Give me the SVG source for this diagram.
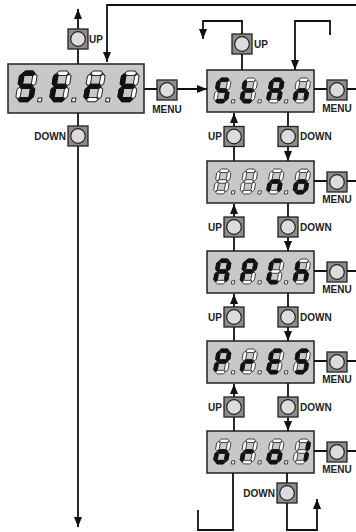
<svg xmlns="http://www.w3.org/2000/svg" xmlns:xlink="http://www.w3.org/1999/xlink" width="356" height="532" viewBox="0 0 356 532">
<style>
.ln{fill:none;stroke:#111;stroke-width:1.8}
.disp{fill:#c8c8c8;stroke:#222;stroke-width:1.5}
.off{fill:#fff;stroke:#222;stroke-width:0.9;stroke-linejoin:round}
.on{fill:#111;stroke:#111;stroke-width:0.9;stroke-linejoin:round}
.lbl{font-family:"Liberation Sans",Arial,sans-serif;font-weight:bold;font-size:10px;fill:#222}
</style>
<defs>
<marker id="ah" viewBox="0 0 10 8" refX="10" refY="4" markerWidth="10" markerHeight="8" markerUnits="userSpaceOnUse" orient="auto"><path d="M0,0 L10,4 L0,8 Z" fill="#111"/></marker>
<path id="sa" d="M2.6,2 L4.6,0 H11.4 L13.4,2 L11.4,4 H4.6 Z"/>
<path id="sg" d="M2.6,14 L4.6,12 H11.4 L13.4,14 L11.4,16 H4.6 Z"/>
<path id="sd" d="M2.6,26 L4.6,24 H11.4 L13.4,26 L11.4,28 H4.6 Z"/>
<path id="sf" d="M2,2.6 L4,4.6 V11.4 L2,13.4 L0,11.4 V4.6 Z"/>
<path id="se" d="M2,14.6 L4,16.6 V23.4 L2,25.4 L0,23.4 V16.6 Z"/>
<path id="sb" d="M14,2.6 L16,4.6 V11.4 L14,13.4 L12,11.4 V4.6 Z"/>
<path id="sc" d="M14,14.6 L16,16.6 V23.4 L14,25.4 L12,23.4 V16.6 Z"/>
<rect id="sp" x="20.5" y="24.5" width="3.5" height="3.5"/>
<g id="d8"><use href="#sa"/><use href="#sb"/><use href="#sc"/><use href="#sd"/><use href="#se"/><use href="#sf"/><use href="#sg"/></g>
<g id="btn"><rect x="0" y="0" width="20" height="20" fill="#8c8c8c" stroke="#222" stroke-width="1.3"/><circle cx="10" cy="10" r="7.3" fill="#dcdcdc" stroke="#222" stroke-width="1.2"/></g>
</defs>

<g id="connectors">
<path class="ln" d="M78,64 V9" marker-end="url(#ah)"/>
<path class="ln" d="M78,113 V527" marker-end="url(#ah)"/>
<path class="ln" d="M358,5 H107 V62" marker-end="url(#ah)"/>
<path class="ln" d="M144,89 H207" marker-end="url(#ah)"/>
<path class="ln" d="M242,70 V21 H203 V39" marker-end="url(#ah)"/>
<path class="ln" d="M330,35 V21 H295 V70" marker-end="url(#ah)"/>
<path class="ln" d="M314,89 H358"/>
<path class="ln" d="M314,181 H358"/>
<path class="ln" d="M314,271 H358"/>
<path class="ln" d="M314,361 H358"/>
<path class="ln" d="M314,451 H358"/>
<path class="ln" d="M234,161 V113" marker-end="url(#ah)"/>
<path class="ln" d="M288,112 V161" marker-end="url(#ah)"/>
<path class="ln" d="M234,251 V204" marker-end="url(#ah)"/>
<path class="ln" d="M288,203 V251" marker-end="url(#ah)"/>
<path class="ln" d="M234,341 V294" marker-end="url(#ah)"/>
<path class="ln" d="M288,293 V341" marker-end="url(#ah)"/>
<path class="ln" d="M234,431 V384" marker-end="url(#ah)"/>
<path class="ln" d="M288,383 V431" marker-end="url(#ah)"/>
<path class="ln" d="M233,473 V530 H198 V510"/>
<path class="ln" d="M287,473 V530 H317 V499" marker-end="url(#ah)"/>
</g>

<g id="strt">
<rect class="disp" x="8" y="64" width="136" height="49"/>
<g transform="translate(20.4,71) scale(1.1) skewX(-10)"><use href="#d8" class="off"/><use href="#sp" class="off"/><g class="on"><use href="#sa"/><use href="#sf"/><use href="#sg"/><use href="#sc"/><use href="#sd"/></g></g>
<g transform="translate(54.4,71) scale(1.1) skewX(-10)"><use href="#d8" class="off"/><use href="#sp" class="off"/><g class="on"><use href="#sf"/><use href="#sg"/><use href="#se"/><use href="#sd"/></g></g>
<g transform="translate(88.4,71) scale(1.1) skewX(-10)"><use href="#d8" class="off"/><use href="#sp" class="off"/><g class="on"><use href="#sg"/><use href="#se"/></g></g>
<g transform="translate(122.4,71) scale(1.1) skewX(-10)"><use href="#d8" class="off"/><g class="on"><use href="#sf"/><use href="#sg"/><use href="#se"/><use href="#sd"/></g></g>
</g>

<g id="stan">
<rect class="disp" x="207" y="70" width="107" height="42"/>
<g transform="translate(217.4,78) scale(0.89) skewX(-10)"><use href="#d8" class="off"/><use href="#sp" class="off"/><g class="on"><use href="#sa"/><use href="#sf"/><use href="#sg"/><use href="#sc"/><use href="#sd"/></g></g>
<g transform="translate(243.9,78) scale(0.89) skewX(-10)"><use href="#d8" class="off"/><use href="#sp" class="off"/><g class="on"><use href="#sf"/><use href="#sg"/><use href="#se"/><use href="#sd"/></g></g>
<g transform="translate(270.4,78) scale(0.89) skewX(-10)"><use href="#d8" class="off"/><use href="#sp" class="off"/><g class="on"><use href="#sa"/><use href="#sb"/><use href="#sc"/><use href="#se"/><use href="#sf"/><use href="#sg"/></g></g>
<g transform="translate(296.9,78) scale(0.89) skewX(-10)"><use href="#d8" class="off"/><g class="on"><use href="#sc"/><use href="#se"/><use href="#sg"/></g></g>
</g>

<g id="no">
<rect class="disp" x="207" y="161" width="107" height="42"/>
<g transform="translate(217.4,169) scale(0.89) skewX(-10)"><use href="#d8" class="off"/><use href="#sp" class="off"/></g>
<g transform="translate(243.9,169) scale(0.89) skewX(-10)"><use href="#d8" class="off"/><use href="#sp" class="off"/></g>
<g transform="translate(270.4,169) scale(0.89) skewX(-10)"><use href="#d8" class="off"/><use href="#sp" class="off"/><g class="on"><use href="#sc"/><use href="#se"/><use href="#sg"/></g></g>
<g transform="translate(296.9,169) scale(0.89) skewX(-10)"><use href="#d8" class="off"/><g class="on"><use href="#sc"/><use href="#sd"/><use href="#se"/><use href="#sg"/></g></g>
</g>

<g id="apch">
<rect class="disp" x="207" y="251" width="107" height="42"/>
<g transform="translate(217.4,259) scale(0.89) skewX(-10)"><use href="#d8" class="off"/><use href="#sp" class="off"/><g class="on"><use href="#sa"/><use href="#sb"/><use href="#sc"/><use href="#se"/><use href="#sf"/><use href="#sg"/></g></g>
<g transform="translate(243.9,259) scale(0.89) skewX(-10)"><use href="#d8" class="off"/><use href="#sp" class="off"/><g class="on"><use href="#sa"/><use href="#sb"/><use href="#se"/><use href="#sf"/><use href="#sg"/></g></g>
<g transform="translate(270.4,259) scale(0.89) skewX(-10)"><use href="#d8" class="off"/><use href="#sp" class="off"/><g class="on"><use href="#sa"/><use href="#sd"/><use href="#se"/><use href="#sf"/></g></g>
<g transform="translate(296.9,259) scale(0.89) skewX(-10)"><use href="#d8" class="off"/><g class="on"><use href="#sc"/><use href="#se"/><use href="#sf"/><use href="#sg"/></g></g>
</g>

<g id="pres">
<rect class="disp" x="207" y="341" width="107" height="42"/>
<g transform="translate(217.4,349) scale(0.89) skewX(-10)"><use href="#d8" class="off"/><use href="#sp" class="off"/><g class="on"><use href="#sa"/><use href="#sb"/><use href="#se"/><use href="#sf"/><use href="#sg"/></g></g>
<g transform="translate(243.9,349) scale(0.89) skewX(-10)"><use href="#d8" class="off"/><use href="#sp" class="off"/><g class="on"><use href="#se"/><use href="#sg"/></g></g>
<g transform="translate(270.4,349) scale(0.89) skewX(-10)"><use href="#d8" class="off"/><use href="#sp" class="off"/><g class="on"><use href="#sa"/><use href="#sd"/><use href="#se"/><use href="#sf"/><use href="#sg"/></g></g>
<g transform="translate(296.9,349) scale(0.89) skewX(-10)"><use href="#d8" class="off"/><g class="on"><use href="#sa"/><use href="#sf"/><use href="#sg"/><use href="#sc"/><use href="#sd"/></g></g>
</g>

<g id="orol">
<rect class="disp" x="207" y="431" width="107" height="42"/>
<g transform="translate(217.4,439) scale(0.89) skewX(-10)"><use href="#d8" class="off"/><use href="#sp" class="off"/><g class="on"><use href="#sc"/><use href="#sd"/><use href="#se"/><use href="#sg"/></g></g>
<g transform="translate(243.9,439) scale(0.89) skewX(-10)"><use href="#d8" class="off"/><use href="#sp" class="off"/><g class="on"><use href="#se"/><use href="#sg"/></g></g>
<g transform="translate(270.4,439) scale(0.89) skewX(-10)"><use href="#d8" class="off"/><use href="#sp" class="off"/><g class="on"><use href="#sc"/><use href="#sd"/><use href="#se"/><use href="#sg"/></g></g>
<g transform="translate(296.9,439) scale(0.89) skewX(-10)"><use href="#d8" class="off"/><g class="on"><use href="#sb"/><use href="#sc"/></g></g>
</g>

<g id="buttons">
<g id="btn-strt-up"><use href="#btn" x="68" y="29"/><text class="lbl" x="89" y="43">UP</text></g>
<g id="btn-strt-down"><use href="#btn" x="68" y="126"/><text class="lbl" x="66" y="140" text-anchor="end">DOWN</text></g>
<g id="btn-strt-menu"><use href="#btn" x="157" y="80"/><text class="lbl" x="167" y="113" text-anchor="middle">MENU</text></g>
<g id="btn-stan-up"><use href="#btn" x="232" y="34"/><text class="lbl" x="254" y="48">UP</text></g>
<g id="btn-stan-menu"><use href="#btn" x="327" y="80"/><text class="lbl" x="337" y="112" text-anchor="middle">MENU</text></g>
<g id="btn-no-menu"><use href="#btn" x="327" y="172"/><text class="lbl" x="337" y="203" text-anchor="middle">MENU</text></g>
<g id="btn-apch-menu"><use href="#btn" x="327" y="262"/><text class="lbl" x="337" y="293" text-anchor="middle">MENU</text></g>
<g id="btn-pres-menu"><use href="#btn" x="327" y="352"/><text class="lbl" x="337" y="383" text-anchor="middle">MENU</text></g>
<g id="btn-orol-menu"><use href="#btn" x="327" y="442"/><text class="lbl" x="337" y="473" text-anchor="middle">MENU</text></g>
<g id="btn-up-1"><use href="#btn" x="224" y="126.5"/><text class="lbl" x="222" y="140" text-anchor="end">UP</text></g>
<g id="btn-down-1"><use href="#btn" x="278" y="126.5"/><text class="lbl" x="300" y="140">DOWN</text></g>
<g id="btn-up-2"><use href="#btn" x="224" y="217"/><text class="lbl" x="222" y="230.5" text-anchor="end">UP</text></g>
<g id="btn-down-2"><use href="#btn" x="278" y="217"/><text class="lbl" x="300" y="230.5">DOWN</text></g>
<g id="btn-up-3"><use href="#btn" x="224" y="307"/><text class="lbl" x="222" y="320.5" text-anchor="end">UP</text></g>
<g id="btn-down-3"><use href="#btn" x="278" y="307"/><text class="lbl" x="300" y="320.5">DOWN</text></g>
<g id="btn-up-4"><use href="#btn" x="224" y="397"/><text class="lbl" x="222" y="410.5" text-anchor="end">UP</text></g>
<g id="btn-down-4"><use href="#btn" x="278" y="397"/><text class="lbl" x="300" y="410.5">DOWN</text></g>
<g id="btn-orol-down"><use href="#btn" x="277" y="483"/><text class="lbl" x="275" y="497" text-anchor="end">DOWN</text></g>
</g>
</svg>
